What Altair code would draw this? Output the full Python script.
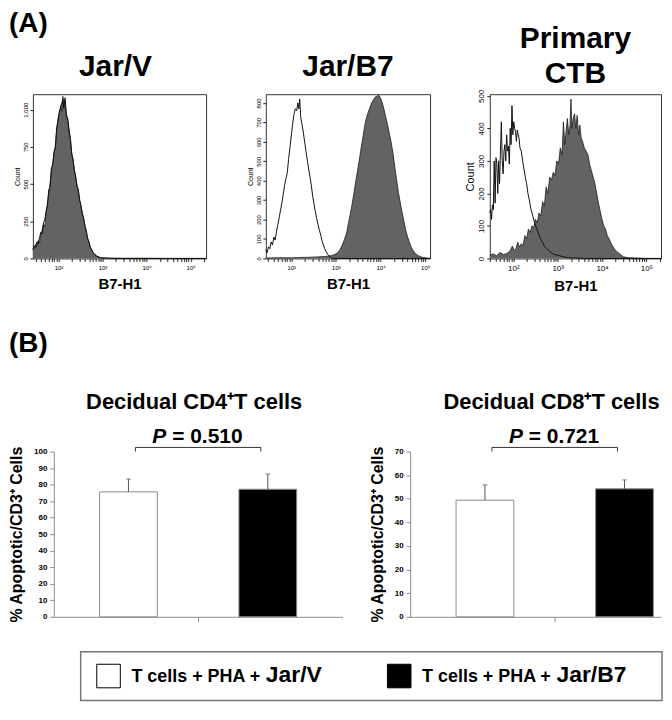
import altair as alt
import numpy as np
import pandas as pd

FONT = "Liberation Sans, Arial, Helvetica, sans-serif"

# ---------------- Panel A: flow cytometry histograms (x = log10 B7-H1) ----------------
h1_x = [1.42, 1.45, 1.48, 1.51, 1.54, 1.57, 1.60, 1.63, 1.66, 1.69,
        1.72, 1.75, 1.78, 1.81, 1.84, 1.87, 1.90, 1.93, 1.96, 1.99,
        2.02, 2.05, 2.08, 2.10, 2.12, 2.15, 2.18, 2.21, 2.24, 2.27,
        2.30, 2.33, 2.36, 2.39, 2.42, 2.45, 2.48, 2.51, 2.54, 2.57,
        2.60, 2.63, 2.66, 2.69, 2.72, 2.75, 2.78, 2.82, 2.86, 2.90,
        2.95, 3.00, 3.10, 3.25, 3.45, 3.70, 4.00, 4.40, 4.80, 5.35]
h1_fill = [55, 70, 95, 80, 120, 105, 160, 190, 230, 215,
           300, 370, 440, 500, 590, 640, 700, 760, 860, 940,
           970, 1030, 990, 1090, 1040, 1060, 975, 930, 870, 800,
           715, 660, 600, 545, 495, 455, 400, 350, 310, 265,
           225, 180, 140, 110, 80, 60, 42, 28, 18, 11,
           6, 4, 2, 1, 1, 0, 1, 0, 0, 0]
h1_ctrl = [60, 85, 75, 110, 100, 140, 175, 165, 240, 260,
           320, 355, 460, 480, 610, 625, 720, 745, 880, 925,
           990, 1010, 1050, 1070, 1010, 1080, 950, 945, 850, 815,
           700, 670, 590, 555, 485, 465, 390, 360, 300, 275,
           215, 190, 135, 115, 75, 62, 40, 30, 16, 12,
           5, 4, 2, 1, 0, 1, 0, 0, 0, 0]

h2_ctrl_x = [1.43, 1.46, 1.49, 1.52, 1.55, 1.58, 1.61, 1.64, 1.67, 1.70,
             1.73, 1.76, 1.79, 1.82, 1.85, 1.88, 1.91, 1.94, 1.97, 2.00,
             2.03, 2.06, 2.09, 2.12, 2.15, 2.17, 2.19, 2.21, 2.24, 2.27,
             2.30, 2.33, 2.36, 2.39, 2.42, 2.45, 2.48, 2.51, 2.54, 2.57,
             2.60, 2.63, 2.66, 2.69, 2.72, 2.75, 2.78, 2.82, 2.86, 2.90,
             2.95, 5.11]
h2_ctrl_y = [45, 30, 60, 50, 85, 70, 110, 95, 140, 175,
             210, 250, 285, 330, 375, 410, 440, 510, 570, 630,
             690, 740, 770, 760, 800, 770, 820, 730, 690, 650,
             600, 550, 505, 460, 420, 375, 320, 280, 240, 205,
             175, 145, 120, 90, 70, 50, 35, 20, 8, 3,
             0, 0]
h2_fill_x = [1.43, 1.6, 1.8, 2.0, 2.2, 2.4, 2.6, 2.75, 2.85, 2.90,
             2.95, 3.00, 3.04, 3.08, 3.12, 3.16, 3.20, 3.24, 3.28, 3.32,
             3.36, 3.40, 3.44, 3.48, 3.52, 3.56, 3.60, 3.64, 3.68, 3.72,
             3.76, 3.80, 3.84, 3.88, 3.92, 3.96, 4.00, 4.04, 4.08, 4.12,
             4.16, 4.20, 4.24, 4.28, 4.32, 4.36, 4.40, 4.44, 4.48, 4.52,
             4.56, 4.60, 4.64, 4.68, 4.72, 4.76, 4.80, 4.85, 4.90, 4.95,
             5.00, 5.11]
h2_fill_y = [2, 3, 4, 3, 5, 6, 8, 10, 13, 15,
             18, 24, 30, 40, 58, 78, 104, 130, 180, 225,
             275, 330, 390, 445, 500, 560, 615, 675, 720, 750,
             775, 800, 815, 830, 835, 840, 825, 800, 765, 725,
             685, 640, 595, 540, 470, 405, 340, 290, 240, 195,
             150, 115, 88, 62, 45, 30, 22, 14, 9, 5,
             3, 0]

h3_ctrl_x = [1.47, 1.49, 1.51, 1.53, 1.55, 1.57, 1.59, 1.61, 1.63, 1.65,
             1.67, 1.69, 1.71, 1.73, 1.75, 1.77, 1.79, 1.81, 1.83, 1.85,
             1.87, 1.89, 1.91, 1.93, 1.95, 1.97, 1.99, 2.01, 2.03, 2.05,
             2.07, 2.09, 2.11, 2.13, 2.15, 2.18, 2.21, 2.24, 2.27, 2.30,
             2.33, 2.36, 2.40, 2.44, 2.48, 2.52, 2.56, 2.60, 2.65, 2.70,
             2.75, 2.80, 2.85, 2.92, 3.00, 3.08, 3.16, 3.25, 3.40, 3.60,
             5.33]
h3_ctrl_y = [140, 150, 120, 165, 150, 300, 170, 310, 290, 200,
             300, 230, 330, 420, 300, 260, 330, 350, 300, 380,
             330, 345, 290, 400, 350, 470, 380, 420, 400, 390,
             360, 395, 380, 370, 340, 330, 300, 275, 250, 230,
             200, 180, 150, 130, 110, 95, 80, 65, 52, 38,
             30, 24, 18, 12, 10, 7, 4, 2, 1, 0,
             0]
h3_fill_x = [1.47, 1.55, 1.62, 1.70, 1.78, 1.85, 1.92, 1.98, 2.02, 2.06,
             2.10, 2.14, 2.18, 2.22, 2.26, 2.30, 2.34, 2.38, 2.42, 2.46,
             2.50, 2.54, 2.58, 2.62, 2.66, 2.70, 2.74, 2.78, 2.82, 2.86,
             2.90, 2.94, 2.98, 3.02, 3.06, 3.10, 3.13, 3.16, 3.19, 3.22,
             3.25, 3.28, 3.30, 3.32, 3.35, 3.38, 3.41, 3.44, 3.47, 3.50,
             3.53, 3.56, 3.60, 3.64, 3.68, 3.72, 3.76, 3.80, 3.84, 3.88,
             3.92, 3.96, 4.00, 4.04, 4.08, 4.12, 4.16, 4.22, 4.30, 4.40,
             4.48, 4.60, 4.80, 5.00, 5.33]
h3_fill_y = [10, 14, 8, 18, 12, 15, 22, 38, 25, 30,
             50, 35, 45, 40, 70, 60, 90, 80, 100, 95,
             120, 110, 140, 130, 175, 160, 220, 200, 250, 240,
             265, 255, 300, 290, 340, 320, 420, 350, 390, 430,
             380, 410, 490, 400, 430, 445, 400, 440, 380, 410,
             370, 360, 340, 330, 320, 290, 270, 250, 230, 200,
             170, 145, 120, 100, 90, 70, 60, 42, 25, 14,
             5, 2, 1, 0, 0]

# ---------------- Panel B: apoptosis bar charts ----------------
groups = ["Jar/V", "Jar/B7"]
legend_prefix = "T cells + PHA + "
cd4_mean = [75.6, 77.2]
cd4_err = [7.8, 9.2]
cd8_mean = [49.4, 54.2]
cd8_err = [6.5, 3.8]
cd4_p = "= 0.510"
cd8_p = "= 0.721"

SUP = "['\u2070','\u00b9','\u00b2','\u00b3','\u2074','\u2075','\u2076']"
LOG_LABEL = "datum.value % 1 === 0 ? '10' + " + SUP + "[datum.value] : ''"


def log_ticks(lo, hi):
    vals = []
    for d in range(1, 6):
        for k in range(1, 10):
            v = round(float(d + np.log10(k)), 4)
            if lo <= v <= hi:
                vals.append(v)
    return vals


def hist(fx, fy, cx, cy, xdom, ymax, yvals, title, width, height, big=False):
    fill = pd.DataFrame({"v": fx, "count": fy})
    ctrl = pd.DataFrame({"v": cx, "count": cy})
    lab = 8 if big else 6
    xaxis = alt.Axis(values=log_ticks(*xdom), labelExpr=LOG_LABEL, title="B7-H1",
                     titleFontSize=15, titleFontWeight="bold", titlePadding=6,
                     labelFontSize=lab, labelPadding=3, tickSize=3, tickColor="#222",
                     domain=False, grid=False, labelFlush=False, labelOverlap=False)
    yaxis = alt.Axis(values=yvals, format=",.0f", labelAngle=270, labelFontSize=lab,
                     labelPadding=1, title="Count", titleFontSize=11 if big else 7,
                     titleFontWeight="normal", titlePadding=2, tickSize=3, tickColor="#222",
                     domain=False, grid=False, labelFlush=False)
    x = alt.X("v:Q", scale=alt.Scale(domain=xdom, nice=False, zero=False), axis=xaxis)
    y = alt.Y("count:Q", scale=alt.Scale(domain=[0, ymax], nice=False), axis=yaxis)
    area = alt.Chart(fill).mark_area(
        color="#636363", opacity=1,
        line=alt.OverlayMarkDef(color="#1c1c1c", strokeWidth=0.8)).encode(x=x, y=y)
    line = alt.Chart(ctrl).mark_line(color="#111111", strokeWidth=1).encode(x=x, y=y)
    return alt.layer(area, line).properties(
        width=width, height=height, title=title,
        view=alt.ViewBackground(stroke="#333333", strokeWidth=1))


HH = 165
t1 = alt.TitleParams("Jar/V", fontSize=30, fontWeight="bold", anchor="middle",
                     frame="group", offset=12, dx=-4)
t2 = alt.TitleParams("Jar/B7", fontSize=30, fontWeight="bold", anchor="middle",
                     frame="group", offset=12)
t3 = alt.TitleParams(["Primary", "CTB"], fontSize=30, fontWeight="bold", anchor="middle",
                     frame="group", offset=0, lineHeight=35)

p1 = hist(h1_x, h1_fill, h1_x, h1_ctrl, [1.42, 5.35], 1104, [0, 250, 500, 750, 1000],
          t1, 174, HH)
p2 = hist(h2_fill_x, h2_fill_y, h2_ctrl_x, h2_ctrl_y, [1.43, 5.11], 845,
          list(range(0, 801, 100)), t2, 165, HH)
p3 = hist(h3_fill_x, h3_fill_y, h3_ctrl_x, h3_ctrl_y, [1.47, 5.33], 505,
          list(range(0, 501, 100)), t3, 172, HH, big=True)

row1 = alt.hconcat(p1, p2, p3, spacing=60, bounds="flush").properties(
    title=alt.TitleParams("(A)", fontSize=28, fontWeight="bold", anchor="start",
                          frame="group", offset=-14, dx=-24))

fill_scale = alt.Scale(domain=groups, range=["#ffffff", "#000000"])
YTITLE = "% Apoptotic/CD3\u207a Cells"


def bar_panel(means, errs, ymax, ptxt, title, xmax, width, height, tdx):
    df = pd.DataFrame({"group": groups, "mean": means, "err": errs})
    df["upper"] = df["mean"] + df["err"]
    df["pos"] = [i + 0.5 for i in range(len(groups))]
    xs = alt.Scale(domain=[0, xmax], nice=False, zero=False)
    ys = alt.Scale(domain=[0, ymax], nice=False)
    xaxis = alt.Axis(values=[1], labels=False, title=None, grid=False, tickSize=5,
                     domainColor="#8c8c8c", tickColor="#8c8c8c")
    yaxis = alt.Axis(values=list(range(0, ymax + 1, 10)), title=YTITLE, titleFontSize=16,
                     titleFontWeight="bold", titlePadding=9, labelFontSize=8,
                     labelFontWeight="bold", labelPadding=3, tickSize=4, grid=False,
                     domainColor="#8c8c8c", tickColor="#8c8c8c")

    def X(f):
        return alt.X(f, scale=xs, axis=xaxis)

    def Y(f):
        return alt.Y(f, scale=ys, axis=yaxis)

    bars = alt.Chart(df).mark_bar(size=58, stroke="#8a8a8a", strokeWidth=1).encode(
        x=X("pos:Q"), y=Y("mean:Q"),
        fill=alt.Fill("group:N", scale=fill_scale, legend=None))
    err = alt.Chart(df).mark_rule(color="#555555", strokeWidth=1).encode(
        x=X("pos:Q"), y=Y("mean:Q"), y2="upper:Q")
    cap = alt.Chart(df).mark_tick(orient="horizontal", size=5, thickness=1,
                                  color="#555555").encode(x=X("pos:Q"), y=Y("upper:Q"))

    p0, p1_ = df["pos"].iloc[0], df["pos"].iloc[1]
    br = pd.DataFrame({"x1": [p0 + 0.05], "x2": [p1_ - 0.05],
                       "yb": [ymax * 1.025], "mid": [(p0 + p1_) / 2],
                       "ty": [ymax * 1.09], "p": ["P"], "val": [ptxt]})
    tips = pd.DataFrame({"x": [p0 + 0.05, p1_ - 0.05], "y1": [ymax * 1.025] * 2,
                         "y2": [ymax * 1.0] * 2})
    hbar = alt.Chart(br).mark_rule(color="#333333", strokeWidth=1).encode(
        x=X("x1:Q"), x2="x2:Q", y=Y("yb:Q"))
    vt = alt.Chart(tips).mark_rule(color="#333333", strokeWidth=1).encode(
        x=X("x:Q"), y=Y("y1:Q"), y2="y2:Q")
    tp = alt.Chart(br).mark_text(align="left", baseline="middle", dx=-46, fontSize=21,
                                 fontWeight="bold", fontStyle="italic", color="black").encode(
        x=X("mid:Q"), y=Y("ty:Q"), text="p:N")
    tv = alt.Chart(br).mark_text(align="left", baseline="middle", dx=-26, fontSize=21,
                                 fontWeight="bold", color="black").encode(
        x=X("mid:Q"), y=Y("ty:Q"), text="val:N")
    return alt.layer(bars, err, cap, hbar, vt, tp, tv).properties(
        width=width, height=height,
        title=alt.TitleParams(title, fontSize=22, fontWeight="bold", anchor="middle",
                              frame="group", offset=12, dx=tdx),
        view=alt.ViewBackground(stroke=None))


BH = 166
b1 = bar_panel(cd4_mean, cd4_err, 100, cd4_p, "Decidual CD4\u207aT cells", 2.0, 290, BH, -4)
b2 = bar_panel(cd8_mean, cd8_err, 70, cd8_p, "Decidual CD8\u207aT cells", 1.726, 252, BH, 16)


def spacer(w):
    return alt.Chart(pd.DataFrame({"s": [0]})).mark_point(opacity=0).encode(
        x=alt.value(0), y=alt.value(0)).properties(
        width=w, height=1, view=alt.ViewBackground(stroke=None))


row2 = alt.hconcat(spacer(21), alt.hconcat(b1, b2, spacing=68, bounds="flush"),
                   spacing=0, bounds="flush").properties(
    title=alt.TitleParams("(B)", fontSize=28, fontWeight="bold", anchor="start",
                          frame="group", offset=33, dx=-24))

# ---------------- legend box ----------------
leg = pd.DataFrame({"group": groups, "prefix": [legend_prefix] * len(groups),
                    "suffix": groups})
lx = alt.X("group:N", bandPosition=0,
           scale=alt.Scale(type="band", domain=groups, paddingInner=0, paddingOuter=0),
           axis=None)
sq = alt.Chart(leg).mark_square(size=560, filled=True, opacity=1, stroke="black",
                                strokeWidth=1, xOffset=28).encode(
    x=lx, fill=alt.Fill("group:N", scale=fill_scale, legend=None))
pre = alt.Chart(leg).mark_text(align="left", baseline="alphabetic", dx=51, dy=6,
                               fontSize=18, fontWeight="bold", color="black").encode(
    x=lx, text="prefix:N")
suf = alt.Chart(leg).mark_text(align="left", baseline="alphabetic", dx=186, dy=6,
                               fontSize=23, fontWeight="bold", color="black").encode(
    x=lx, text="suffix:N")
legend_box = alt.layer(sq, pre, suf).properties(
    width=584, height=49, view=alt.ViewBackground(stroke="#777777", strokeWidth=1.5))
row3 = alt.hconcat(spacer(48), legend_box, spacing=0, bounds="flush")

# nested concat groups count as zero-size in a flush layout, so spacing includes row heights
lower = alt.vconcat(row2, row3, spacing=BH + 35, bounds="flush")

chart = alt.vconcat(row1, lower, spacing=HH + 194, bounds="flush").properties(
    padding=0
).configure(font=FONT).configure_view(stroke=None).configure_axis(
    labelFont=FONT, titleFont=FONT, labelColor="black", titleColor="black"
).configure_title(font=FONT, color="black")

chart.save("out.html", embed_options={"renderer": "svg", "actions": False})
